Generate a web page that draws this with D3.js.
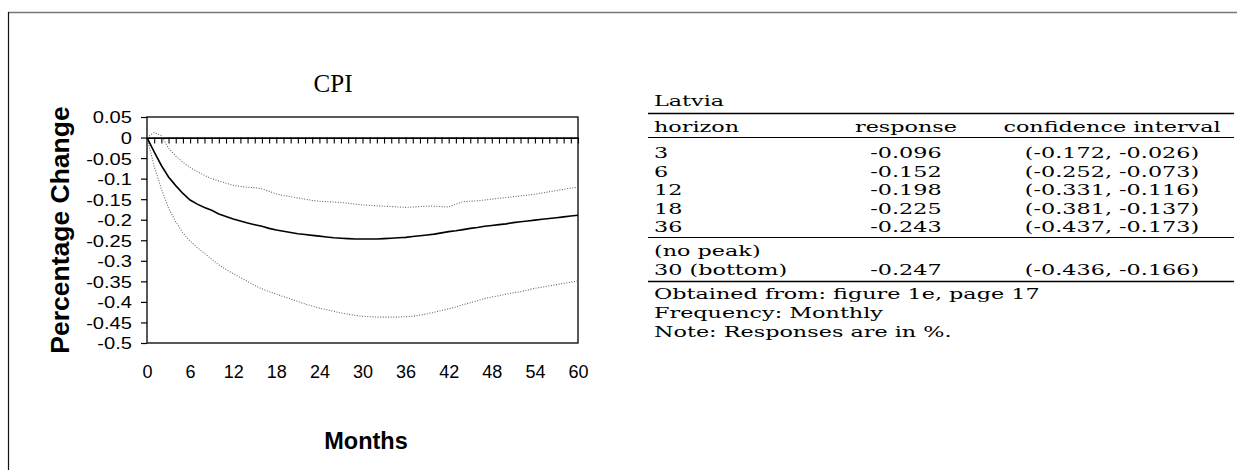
<!DOCTYPE html>
<html><head><meta charset="utf-8">
<script src="https://cdn.jsdelivr.net/npm/d3@7"></script>
<style>
html,body{margin:0;padding:0;background:#fff;}
svg{display:block;}
</style></head>
<body>
<svg id="chart" width="1237" height="470"></svg>
<script>
// ---------------- data ----------------
const months = d3.range(0, 61);
const cpiResponse = [0,-0.035,-0.068,-0.096,-0.117,-0.136,-0.152,-0.162,-0.170,-0.177,-0.186,-0.192,-0.198,-0.203,-0.208,-0.212,-0.216,-0.221,-0.225,-0.228,-0.231,-0.234,-0.236,-0.238,-0.240,-0.242,-0.244,-0.245,-0.246,-0.247,-0.247,-0.247,-0.247,-0.246,-0.245,-0.244,-0.243,-0.241,-0.239,-0.237,-0.235,-0.232,-0.229,-0.227,-0.224,-0.221,-0.219,-0.216,-0.214,-0.212,-0.210,-0.207,-0.205,-0.203,-0.201,-0.199,-0.197,-0.195,-0.193,-0.191,-0.189];
const cpiUpper = [0,0.012,0.005,-0.026,-0.045,-0.060,-0.073,-0.083,-0.092,-0.100,-0.106,-0.111,-0.116,-0.119,-0.121,-0.122,-0.125,-0.131,-0.137,-0.141,-0.144,-0.147,-0.150,-0.153,-0.155,-0.156,-0.157,-0.158,-0.160,-0.162,-0.164,-0.165,-0.166,-0.167,-0.168,-0.169,-0.170,-0.169,-0.168,-0.167,-0.167,-0.168,-0.169,-0.162,-0.156,-0.155,-0.154,-0.152,-0.150,-0.148,-0.146,-0.144,-0.142,-0.140,-0.138,-0.135,-0.132,-0.129,-0.126,-0.123,-0.121];
const cpiLower = [0,-0.070,-0.125,-0.172,-0.205,-0.232,-0.252,-0.268,-0.282,-0.296,-0.310,-0.321,-0.331,-0.341,-0.350,-0.360,-0.368,-0.375,-0.381,-0.387,-0.393,-0.399,-0.405,-0.410,-0.415,-0.419,-0.423,-0.427,-0.430,-0.433,-0.435,-0.436,-0.437,-0.437,-0.437,-0.437,-0.436,-0.435,-0.432,-0.429,-0.425,-0.421,-0.417,-0.412,-0.407,-0.402,-0.397,-0.392,-0.388,-0.385,-0.381,-0.378,-0.375,-0.371,-0.367,-0.364,-0.361,-0.358,-0.355,-0.352,-0.349];

const xTickValues = [0,6,12,18,24,30,36,42,48,54,60];
const xTickLabels = ["0","6","12","18","24","30","36","42","48","54","60"];
const yTickValues = [0.05,0,-0.05,-0.1,-0.15,-0.2,-0.25,-0.3,-0.35,-0.4,-0.45,-0.5];
const yTickLabels = ["0.05","0","-0.05","-0.1","-0.15","-0.2","-0.25","-0.3","-0.35","-0.4","-0.45","-0.5"];

const chartTitle = "CPI";
const yAxisTitle = "Percentage Change";
const xAxisTitle = "Months";

const tableCountry = "Latvia";
const tableHeaders = ["horizon", "response", "confidence interval"];
const tableHorizons = ["3", "6", "12", "18", "36"];
const tableResponses = ["-0.096", "-0.152", "-0.198", "-0.225", "-0.243"];
const tableIntervals = ["(-0.172, -0.026)", "(-0.252, -0.073)", "(-0.331, -0.116)", "(-0.381, -0.137)", "(-0.437, -0.173)"];
const peakLabel = "(no peak)";
const bottomRow = ["30 (bottom)", "-0.247", "(-0.436, -0.166)"];
const notes = ["Obtained from: figure 1e, page 17", "Frequency: Monthly", "Note: Responses are in %."];

// ---------------- drawing ----------------
const svg = d3.select("#chart");

// frame
svg.append("line").attr("x1", 8).attr("x2", 1237).attr("y1", 12.5).attr("y2", 12.5)
  .attr("stroke", "#777").attr("stroke-width", 1.5);
svg.append("line").attr("x1", 8.5).attr("x2", 8.5).attr("y1", 12).attr("y2", 470)
  .attr("stroke", "#111").attr("stroke-width", 1.2);

const plot = {left: 147, right: 578, top: 117, bottom: 343};
const x = d3.scaleLinear().domain([0, 60]).range([plot.left, plot.right]);
const y = d3.scaleLinear().domain([0.05, -0.5]).range([plot.top, plot.bottom]);

const sansFont = "'Liberation Sans', Arial, Helvetica, sans-serif";
const serifFont = "'Liberation Serif', 'Times New Roman', serif";

// title
svg.append("text").attr("x", 333).attr("y", 92).attr("text-anchor", "middle")
  .attr("font-family", serifFont).attr("font-size", 25).text(chartTitle);

// plot border
svg.append("rect").attr("x", plot.left).attr("y", plot.top)
  .attr("width", plot.right - plot.left).attr("height", plot.bottom - plot.top)
  .attr("fill", "none").attr("stroke", "#000").attr("stroke-width", 1.3);

// y axis
const yAxis = d3.axisLeft(y).tickValues(yTickValues)
  .tickFormat((d, i) => yTickLabels[i]).tickSize(6).tickPadding(9);
const gy = svg.append("g").attr("transform", `translate(${plot.left},0)`).call(yAxis);
gy.select(".domain").remove();
gy.selectAll("line").attr("stroke", "#000").attr("stroke-width", 1.2);
gy.selectAll("text").attr("font-family", sansFont).attr("font-size", 16.5).attr("fill", "#000")
  .attr("x", 0).attr("dy", "0.36em").attr("transform", "translate(-15,0) scale(1.22,1)");

// x axis labels (bottom)
const xAxis = d3.axisBottom(x).tickValues(xTickValues)
  .tickFormat((d, i) => xTickLabels[i]).tickSize(0).tickPadding(22);
const gx = svg.append("g").attr("transform", `translate(0,${plot.bottom})`).call(xAxis);
gx.select(".domain").remove();
gx.selectAll("text").attr("font-family", sansFont).attr("font-size", 18).attr("fill", "#000");

// zero line with monthly ticks
const zeroAxis = d3.axisBottom(x).tickValues(months.filter(m => m > 0))
  .tickFormat("").tickSize(6).tickSizeOuter(0);
const gz = svg.append("g").attr("transform", `translate(0,${y(0)})`).call(zeroAxis);
gz.select(".domain").attr("stroke", "#000").attr("stroke-width", 1.8);
gz.selectAll("line").attr("stroke", "#000").attr("stroke-width", 1.1);

// lines
const line = d3.line().x((d, i) => x(months[i])).y(d => y(d));
svg.append("path").datum(cpiUpper).attr("d", line).attr("fill", "none")
  .attr("stroke", "#666").attr("stroke-width", 1.1).attr("stroke-dasharray", "1,1.6");
svg.append("path").datum(cpiLower).attr("d", line).attr("fill", "none")
  .attr("stroke", "#666").attr("stroke-width", 1.1).attr("stroke-dasharray", "1,1.6");
svg.append("path").datum(cpiResponse).attr("d", line).attr("fill", "none")
  .attr("stroke", "#000").attr("stroke-width", 1.6);

// axis titles
svg.append("text").attr("transform", `translate(69,230) rotate(-90)`)
  .attr("text-anchor", "middle").attr("font-family", sansFont).attr("font-weight", "bold")
  .attr("font-size", 26.5).text(yAxisTitle);
svg.append("text").attr("x", 366).attr("y", 449).attr("text-anchor", "middle")
  .attr("font-family", sansFont).attr("font-weight", "bold").attr("font-size", 23.5).text(xAxisTitle);

// ---------------- table ----------------
const tFont = "'DejaVu Serif', 'Liberation Serif', serif";
const tSize = 15.5;
const tStretch = 1.44;
const colX = {left: 654, resp: 906, ci: 1112};
const ruleX1 = 648, ruleX2 = 1234;
const t = svg.append("g").attr("font-family", tFont).attr("font-size", tSize).attr("fill", "#000");

function txt(xp, yp, s, anchor) {
  t.append("text").attr("x", 0).attr("y", 0)
    .attr("transform", `translate(${xp},${yp}) scale(${tStretch},1)`)
    .attr("text-anchor", anchor || "start").text(s);
}
function rule(yp, w) {
  svg.append("line").attr("x1", ruleX1).attr("x2", ruleX2).attr("y1", yp).attr("y2", yp)
    .attr("stroke", "#000").attr("stroke-width", w || 1);
}

txt(colX.left, 106, tableCountry);
rule(113.5, 1.4);
txt(colX.left, 132, tableHeaders[0]);
txt(colX.resp, 132, tableHeaders[1], "middle");
txt(colX.ci, 132, tableHeaders[2], "middle");
rule(137.5, 1);
const rowY = [158, 176.5, 195, 213.5, 232];
tableHorizons.forEach((h, i) => {
  txt(colX.left, rowY[i], h);
  txt(colX.resp, rowY[i], tableResponses[i], "middle");
  txt(colX.ci, rowY[i], tableIntervals[i], "middle");
});
rule(237.5, 1);
txt(colX.left, 256, peakLabel);
txt(colX.left, 275, bottomRow[0]);
txt(colX.resp, 275, bottomRow[1], "middle");
txt(colX.ci, 275, bottomRow[2], "middle");
rule(281.5, 1.4);
notes.forEach((n, i) => txt(colX.left, 299 + i * 19, n));
</script>
</body></html>
